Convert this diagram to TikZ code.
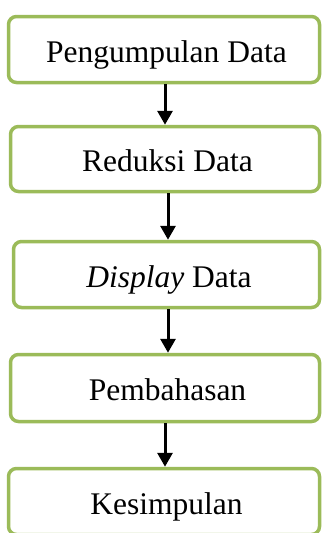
\documentclass[tikz,border=0pt]{standalone}
\usepackage{fontspec}
\setmainfont{Liberation Serif}
\usetikzlibrary{arrows.meta, positioning}
\definecolor{vertOlive}{RGB}{155, 187, 89}

\begin{document}
\begin{tikzpicture}[x=1pt, y=-1pt,
        etape/.style={draw=vertOlive, line width=3.5pt, rounded corners=8pt,
            inner sep=0pt, text height=25pt, text depth=0pt,
            font=\fontsize{31.5}{36}\selectfont,
            execute at begin node=\hspace*{5pt}},
        fleche/.style={line width=3pt, -{Triangle[width=15pt, length=14pt]}}]
        % Cadre de l'image
        \clip (0,0) rectangle (322,533);
        \useasboundingbox (0,0) rectangle (322,533);
        
        % Les etapes
        \node[etape, minimum width=311pt, minimum height=66pt] (collecte) at (164,49.5) {Pengumpulan Data};
        \node[etape, minimum width=309pt, minimum height=65pt] (reduction) at (165,159) {Reduksi Data};
        \node[etape, minimum width=306pt, minimum height=66pt] (affichage) at (166.5,274.5) {\textit{Display} Data};
        \node[etape, minimum width=309pt, minimum height=67pt] (discussion) at (165,388) {Pembahasan};
        \node[etape, minimum width=311pt, minimum height=66pt] (conclusion) at (164,501.5) {Kesimpulan};
        
        % Les fleches
        \draw[fleche] ([xshift=1pt]collecte.south) -- ([xshift=1pt]collecte.south |- reduction.north);
        \draw[fleche] ([xshift=3pt]reduction.south) -- ([xshift=3pt]reduction.south |- affichage.north);
        \draw[fleche] ([xshift=1.5pt]affichage.south) -- ([xshift=1.5pt]affichage.south |- discussion.north);
        \draw[fleche] ([xshift=0pt]discussion.south) -- ([xshift=0pt]discussion.south |- conclusion.north);
    \end{tikzpicture}
\end{document}
